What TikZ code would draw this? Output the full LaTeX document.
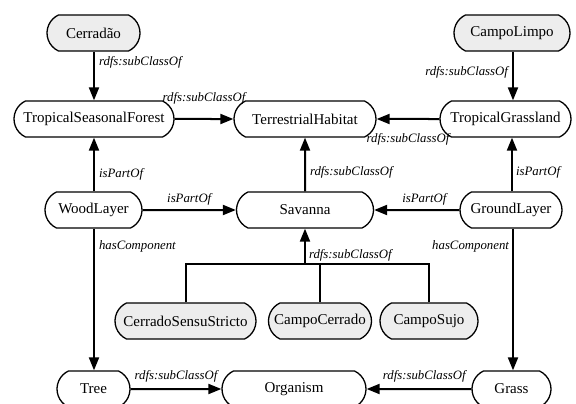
\documentclass[tikz,border=0pt]{standalone}
\usepackage{fontspec}
\setmainfont{Liberation Serif}
\usetikzlibrary{shapes.misc,arrows.meta}
\begin{document}
\begin{tikzpicture}[x=1pt,y=-1pt,
  cls/.style={rounded rectangle, rounded rectangle arc length=130, draw, line width=1.3pt,
    minimum height=36pt, inner xsep=2pt, font=\fontsize{15}{17}\selectfont, fill=white},
  leaf/.style={cls, fill=black!7},
  rel/.style={line width=2pt, -{Triangle[length=13pt,width=10pt]}},
  tie/.style={line width=2pt},
  lbl/.style={font=\itshape\fontsize{12.8}{14}\selectfont, inner sep=1pt}]
\useasboundingbox (0,0) rectangle (576,404);
\node[leaf, minimum width=97pt] (cerradao) at (93.5,33) {Cerradão};
\node[leaf, minimum width=120pt] (campolimpo) at (512,33) {CampoLimpo};
\node[cls, minimum width=164pt] (tsf) at (94,119) {TropicalSeasonalForest};
\node[cls, minimum width=146pt] (th) at (305,119) {TerrestrialHabitat};
\node[cls, minimum width=135pt] (tg) at (505.5,119) {TropicalGrassland};
\node[cls, minimum width=101pt] (wood) at (93.5,210) {WoodLayer};
\node[cls, minimum width=141pt] (sav) at (305,210) {Savanna};
\node[cls, minimum width=106pt] (ground) at (511,210) {GroundLayer};
\node[leaf, minimum width=145pt] (css) at (185.5,321) {CerradoSensuStricto};
\node[leaf, minimum width=107pt] (ccer) at (320,321) {CampoCerrado};
\node[leaf, minimum width=102pt] (csujo) at (429,321) {CampoSujo};
\node[cls, minimum width=77pt] (tree) at (93.5,389) {Tree};
\node[cls, minimum width=148pt] (org) at (294,389) {Organism};
\node[cls, minimum width=83pt] (grass) at (511.5,389) {Grass};
\coordinate (fork) at (305,264);

\draw[rel] (cerradao.south -| tsf.north) -- (tsf.north)
  node[lbl, pos=0.22, anchor=west, xshift=3pt] {rdfs:subClassOf};
\draw[rel] (tsf) -- (th)
  node[lbl, pos=0.5, anchor=south, yshift=13pt] {rdfs:subClassOf};
\draw[rel] (tg) -- (th)
  node[lbl, pos=0.5, anchor=north, yshift=-12pt] {rdfs:subClassOf};
\draw[rel] (campolimpo.south -| 513,0) -- (tg.north -| 513,0)
  node[lbl, pos=0.42, anchor=east, xshift=-3pt] {rdfs:subClassOf};
\draw[rel] (sav) -- (th)
  node[lbl, pos=0.35, anchor=west, xshift=3pt] {rdfs:subClassOf};
\draw[rel] (wood.north -| tsf.north) -- (tsf.south)
  node[lbl, pos=0.31, anchor=west, xshift=3pt] {isPartOf};
\draw[rel] (ground.north -| 512,0) -- (tg.south -| 512,0)
  node[lbl, pos=0.35, anchor=west, xshift=2pt] {isPartOf};
\draw[rel] (wood) -- (sav)
  node[lbl, pos=0.5, anchor=south, yshift=3pt] {isPartOf};
\draw[rel] (ground) -- (sav)
  node[lbl, pos=0.41, anchor=south, yshift=3pt] {isPartOf};
\draw[rel] (wood.south -| tsf.north) -- (tree.north -| tsf.north)
  node[lbl, pos=0.125, anchor=west, xshift=3pt] {hasComponent};
\draw[rel] (ground.south -| 513,0) -- (grass.north -| 513,0)
  node[lbl, pos=0.125, anchor=east, xshift=-2pt] {hasComponent};
\draw[tie] (css.north) |- (fork);
\draw[tie] (ccer.north) |- (fork);
\draw[tie] (csujo.north) |- (fork);
\draw[rel] (fork) -- (sav.south)
  node[lbl, pos=0, anchor=south west, xshift=2pt, yshift=1pt] {rdfs:subClassOf};
\draw[rel] (tree) -- (org)
  node[lbl, pos=0.5, anchor=south, yshift=5pt] {rdfs:subClassOf};
\draw[rel] (grass) -- (org)
  node[lbl, pos=0.45, anchor=south, yshift=5pt] {rdfs:subClassOf};
\end{tikzpicture}
\end{document}
